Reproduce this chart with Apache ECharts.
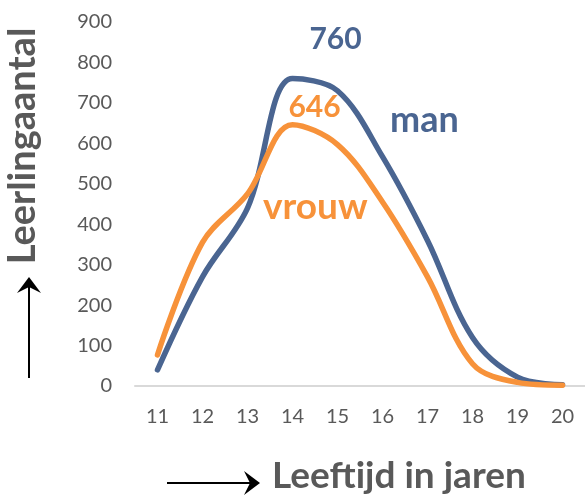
<!DOCTYPE html>
<html>
<head>
<meta charset="utf-8">
<script src="https://cdn.jsdelivr.net/npm/echarts@6/dist/echarts.min.js"></script>
<style>
  html, body { margin: 0; padding: 0; background: #fff; }
  #chart { width: 585px; height: 498px; }
</style>
</head>
<body>
<div id="chart"></div>
<script>
// leeftijden (x-as)
var leeftijden = ['11', '12', '13', '14', '15', '16', '17', '18', '19', '20'];
// leerlingaantal per leeftijd
var man = [40, 270, 440, 760, 730, 567, 360, 120, 22, 3];
var vrouw = [77, 355, 475, 646, 597, 455, 270, 55, 9, 2];
var yTicks = [0, 100, 200, 300, 400, 500, 600, 700, 800, 900];
// piek die met een getal wordt aangegeven
var piekIndex = 3;

var blauw = '#4a6591';
var oranje = '#f7923a';
var grijs = '#595959';

var myChart = echarts.init(document.getElementById('chart'));

// label met de piekwaarde van een reeks
function piekMarker(data, kleur, offset) {
    return {
        symbol: 'circle', symbolSize: 0, silent: true,
        label: {
            show: true, position: 'inside', offset: offset, formatter: '{c}',
            color: kleur, fontFamily: 'Lato', fontWeight: 'bold', fontSize: 30
        },
        data: [{ coord: [leeftijden[piekIndex], data[piekIndex]], value: data[piekIndex] }]
    };
}

var option = {
    animation: false,
    grid: { left: 135, top: 22, bottom: 112, right: -9, containLabel: false },
    xAxis: {
        type: 'category',
        data: leeftijden,
        boundaryGap: true,
        axisLine: { lineStyle: { color: '#d9d9d9', width: 2 } },
        axisTick: { show: false },
        axisLabel: { color: grijs, fontFamily: 'Lato', fontSize: 20, margin: 21 }
    },
    yAxis: {
        type: 'value',
        min: yTicks[0],
        max: yTicks[yTicks.length - 1],
        interval: 100,
        splitLine: { show: false },
        axisLine: { show: false },
        axisTick: { show: false },
        axisLabel: { color: grijs, fontFamily: 'Lato', fontSize: 20, margin: 23 }
    },
    series: [
        {
            name: 'man', type: 'line', smooth: 0.35, symbol: 'none',
            lineStyle: { color: blauw, width: 5.5, cap: 'round' },
            data: man,
            markPoint: piekMarker(man, blauw, [43, -39])
        },
        {
            name: 'vrouw', type: 'line', smooth: 0.35, symbol: 'none',
            lineStyle: { color: oranje, width: 5.5, cap: 'round' },
            data: vrouw,
            markPoint: piekMarker(vrouw, oranje, [22, -17])
        }
    ],
    graphic: [
        { type: 'text', left: 390, top: 102, style: { text: 'man', fill: blauw, font: 'bold 36px Lato' } },
        { type: 'text', left: 263, top: 189, style: { text: 'vrouw', fill: oranje, font: 'bold 37px Lato' } },
        {
            type: 'text', x: 23, y: 146, rotation: Math.PI / 2,
            style: { text: 'Leerlingaantal', fill: grijs, font: 'bold 38px Lato', align: 'center', verticalAlign: 'middle' }
        },
        { type: 'text', left: 272, top: 458, style: { text: 'Leeftijd in jaren', fill: grijs, font: 'bold 37px Lato' } },
        // pijl omhoog
        { type: 'line', shape: { x1: 29, y1: 378, x2: 29, y2: 286 }, style: { stroke: '#000', lineWidth: 2 } },
        { type: 'polygon', shape: { points: [[29, 277], [17, 293], [29, 287], [41, 293]] }, style: { fill: '#000' } },
        // pijl naar rechts
        { type: 'line', shape: { x1: 167, y1: 483, x2: 250, y2: 483 }, style: { stroke: '#000', lineWidth: 2 } },
        { type: 'polygon', shape: { points: [[260, 483], [244, 471], [250, 483], [244, 495]] }, style: { fill: '#000' } }
    ]
};

myChart.setOption(option);
</script>
</body>
</html>
